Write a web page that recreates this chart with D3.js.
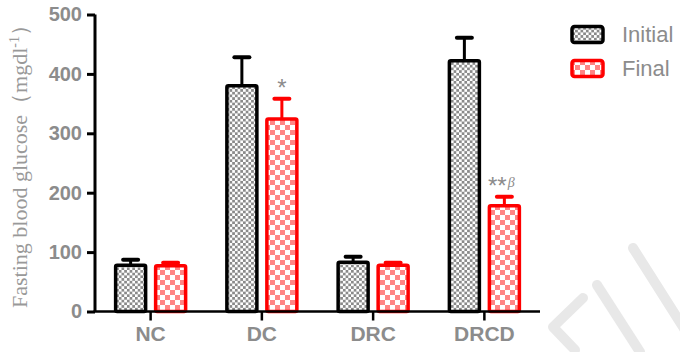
<!DOCTYPE html>
<html>
<head>
<meta charset="utf-8">
<script src="https://cdn.jsdelivr.net/npm/d3@7"></script>
<style>
  html, body { margin: 0; padding: 0; background: #fff; }
  svg { display: block; }
</style>
</head>
<body>
<svg id="chart" width="680" height="352"></svg>
<script>
// Fasting blood glucose per group, mean with upper SEM whisker (mg/dl)
const groups = ["NC", "DC", "DRC", "DRCD"];
const seriesNames = ["Initial", "Final"];
const initialMean = [78, 380, 83, 422];
const initialErr = [9, 48, 9, 39];
const finalMean = [77, 324, 78, 178];
const finalErr = [5, 34, 4, 15];
const yTicks = [0, 100, 200, 300, 400, 500];
// significance marks shown over the Final bars
const marks = [
  { group: "DC", text: "*", beta: false },
  { group: "DRCD", text: "**", beta: true }
];

const svg = d3.select("#chart");
const grey = "#8c8c8c";

// checkerboard fills
const defs = svg.append("defs");
function checker(id, cell, color) {
  const p = defs.append("pattern")
    .attr("id", id).attr("patternUnits", "userSpaceOnUse")
    .attr("width", cell * 2).attr("height", cell * 2);
  p.append("rect").attr("width", cell * 2).attr("height", cell * 2).attr("fill", "#fff");
  p.append("rect").attr("width", cell).attr("height", cell).attr("fill", color);
  p.append("rect").attr("x", cell).attr("y", cell).attr("width", cell).attr("height", cell).attr("fill", color);
}
checker("chkInitial", 2.7, "#8a8a8a");
checker("chkFinal", 5, "#ff8585");

const styles = [
  { fill: "url(#chkInitial)", stroke: "#000" },
  { fill: "url(#chkFinal)", stroke: "#ff0000" }
];

// faint background watermark strokes
const wm = svg.append("g").attr("fill", "none").attr("stroke", "#e8e8e8")
  .attr("stroke-width", 10).attr("stroke-linecap", "round").attr("stroke-linejoin", "round");
wm.append("polyline").attr("points", "583,298 553,327 575,350");
wm.append("line").attr("x1", 597).attr("y1", 285).attr("x2", 640).attr("y2", 352);
wm.append("line").attr("x1", 633).attr("y1", 248).attr("x2", 685).attr("y2", 330);

const x0 = d3.scaleBand().domain(groups).range([95, 540]).padding(0);
const x1 = d3.scaleBand().domain(seriesNames).range([-40, 40]).paddingInner(0.1).paddingOuter(0.05);
const y = d3.scaleLinear().domain([0, 500]).range([311.5, 14.5]);

const rows = groups.map((g, i) => ({
  group: g,
  values: [
    { name: "Initial", mean: initialMean[i], err: initialErr[i], s: 0 },
    { name: "Final", mean: finalMean[i], err: finalErr[i], s: 1 }
  ]
}));

const barW = 30;
const gBars = svg.append("g");
rows.forEach(r => {
  const cx = x0(r.group) + x0.bandwidth() / 2;
  r.values.forEach(v => {
    const bx = cx + x1(v.name) + x1.bandwidth() / 2;
    const st = styles[v.s];
    // upper error whisker
    gBars.append("line")
      .attr("x1", bx).attr("x2", bx)
      .attr("y1", y(v.mean)).attr("y2", y(v.mean + v.err))
      .attr("stroke", st.stroke).attr("stroke-width", 3);
    gBars.append("line")
      .attr("x1", bx - 7.5).attr("x2", bx + 7.5)
      .attr("y1", y(v.mean + v.err)).attr("y2", y(v.mean + v.err))
      .attr("stroke", st.stroke).attr("stroke-width", 4).attr("stroke-linecap", "round");
    gBars.append("rect")
      .attr("x", bx - barW / 2).attr("width", barW)
      .attr("y", y(v.mean)).attr("height", y(0) - y(v.mean))
      .attr("rx", 1.5)
      .attr("fill", st.fill).attr("stroke", st.stroke).attr("stroke-width", 3.5);
  });
});

// significance labels
marks.forEach(m => {
  const i = groups.indexOf(m.group);
  const bx = x0(m.group) + x0.bandwidth() / 2 + x1("Final") + x1.bandwidth() / 2;
  const top = y(finalMean[i] + finalErr[i]);
  const t = svg.append("text")
    .attr("x", m.beta ? bx - 3 : bx).attr("y", top - 3)
    .attr("text-anchor", "middle")
    .attr("font-family", "Liberation Sans, Arial, sans-serif")
    .attr("font-size", 24).attr("fill", grey)
    .text(m.text);
  if (m.beta) {
    t.append("tspan").attr("font-family", "Liberation Serif, serif")
      .attr("font-style", "italic").attr("font-size", 14).attr("dx", 1).attr("dy", -7).text("β");
  }
});

// Y axis
const yAxis = svg.append("g").attr("transform", "translate(95,0)")
  .call(d3.axisLeft(y).tickValues(yTicks).tickSize(8).tickPadding(5).tickFormat(d3.format("d")));
yAxis.select(".domain").attr("stroke", "#000").attr("stroke-width", 3)
  .attr("d", `M0,${y(500)}V${y(0)}`);
yAxis.selectAll(".tick line").attr("stroke", "#000").attr("stroke-width", 3);
yAxis.selectAll(".tick text")
  .attr("font-family", "Liberation Sans, Arial, sans-serif")
  .attr("font-weight", "bold").attr("font-size", 20).attr("fill", grey);

// X axis
const xAxis = svg.append("g").attr("transform", `translate(0,${y(0)})`)
  .call(d3.axisBottom(x0).tickSize(9).tickPadding(6));
xAxis.select(".domain").attr("stroke", "#000").attr("stroke-width", 2.5)
  .attr("d", `M93.5,0H540`);
xAxis.selectAll(".tick line").attr("stroke", "#000").attr("stroke-width", 2.5);
xAxis.selectAll(".tick text")
  .attr("font-family", "Liberation Sans, Arial, sans-serif")
  .attr("font-weight", "bold").attr("font-size", 21).attr("fill", grey);

// Y title
const yt = svg.append("text")
  .attr("transform", `translate(27,${(y(0) + y(500)) / 2 - 2}) rotate(-90)`)
  .attr("text-anchor", "middle")
  .attr("font-family", "Liberation Serif, 'Times New Roman', serif")
  .attr("font-size", 22).attr("fill", "#999");
yt.append("tspan").text("Fasting blood glucose（mgdl");
yt.append("tspan").attr("font-size", 14).attr("dy", -8).text("-1");
yt.append("tspan").attr("dy", 8).text("）");

// Legend
const legend = svg.append("g");
seriesNames.forEach((name, i) => {
  const gy = 25 + i * 34;
  legend.append("rect")
    .attr("x", 572).attr("y", gy + 1.5).attr("width", 31).attr("height", 16).attr("rx", 2.5)
    .attr("fill", styles[i].fill).attr("stroke", styles[i].stroke).attr("stroke-width", 3.5);
  legend.append("text")
    .attr("x", 622).attr("y", gy + 17)
    .attr("font-family", "Liberation Sans, Arial, sans-serif")
    .attr("font-size", 22).attr("fill", grey)
    .text(name);
});
</script>
</body>
</html>
